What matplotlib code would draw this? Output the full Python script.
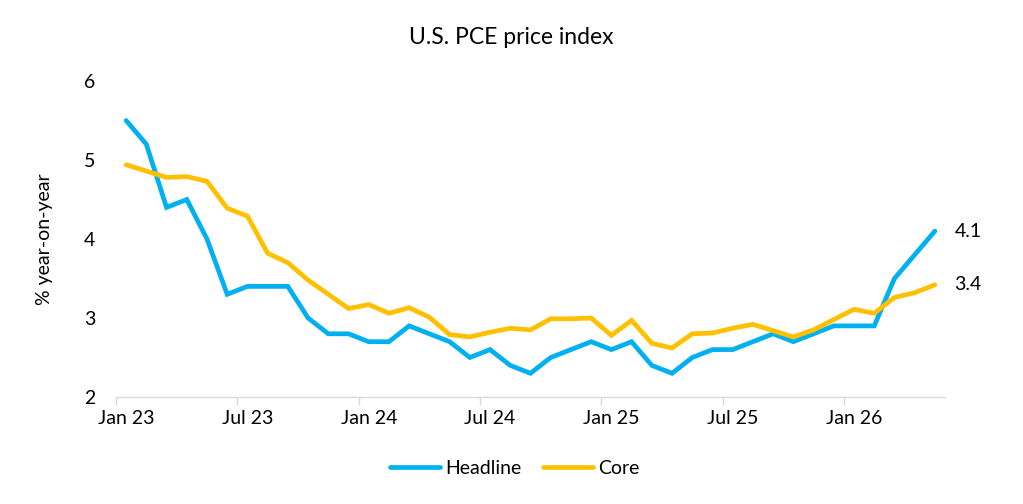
import matplotlib
matplotlib.use("Agg")
import matplotlib.pyplot as plt
import numpy as np

plt.rcParams['font.family'] = ['Lato', 'DejaVu Sans']

# monthly, Jan 23 .. May 26
months = ['Jan 23', 'Feb 23', 'Mar 23', 'Apr 23', 'May 23', 'Jun 23', 'Jul 23', 'Aug 23', 'Sep 23', 'Oct 23', 'Nov 23', 'Dec 23',
          'Jan 24', 'Feb 24', 'Mar 24', 'Apr 24', 'May 24', 'Jun 24', 'Jul 24', 'Aug 24', 'Sep 24', 'Oct 24', 'Nov 24', 'Dec 24',
          'Jan 25', 'Feb 25', 'Mar 25', 'Apr 25', 'May 25', 'Jun 25', 'Jul 25', 'Aug 25', 'Sep 25', 'Oct 25', 'Nov 25', 'Dec 25',
          'Jan 26', 'Feb 26', 'Mar 26', 'Apr 26', 'May 26']
headline = [5.5, 5.2, 4.4, 4.5, 4.0, 3.3, 3.4, 3.4, 3.4, 3.0, 2.8, 2.8,
            2.7, 2.7, 2.9, 2.8, 2.7, 2.5, 2.6, 2.4, 2.3, 2.5, 2.6, 2.7,
            2.6, 2.7, 2.4, 2.3, 2.5, 2.6, 2.6, 2.7, 2.8, 2.7, 2.8, 2.9,
            2.9, 2.9, 3.5, 3.8, 4.1]
core = [4.94, 4.86, 4.78, 4.79, 4.73, 4.39, 4.29, 3.82, 3.70, 3.48, 3.30, 3.12,
        3.17, 3.06, 3.13, 3.01, 2.79, 2.76, 2.82, 2.87, 2.85, 2.99, 2.99, 3.00,
        2.78, 2.97, 2.68, 2.62, 2.80, 2.81, 2.87, 2.92, 2.84, 2.76, 2.85, 2.98,
        3.11, 3.06, 3.26, 3.32, 3.42]

blue = '#00B0F0'
gold = '#FFC000'
fs = 14

fig = plt.figure(figsize=(10.23, 5.04), dpi=100)
ax = fig.add_axes([116/1023, 1 - 397/504, (945 - 116)/1023, (397 - 81)/504])

x = np.arange(len(months))
ax.plot(x, headline, color=blue, lw=3.4, solid_capstyle='round', solid_joinstyle='miter', label='Headline')
ax.plot(x, core, color=gold, lw=3.4, solid_capstyle='round', solid_joinstyle='miter', label='Core')

ax.set_xlim(-0.5, len(months) - 0.5)
ax.set_ylim(2, 6)
ax.set_yticks([2, 3, 4, 5, 6])
ax.tick_params(axis='y', length=0, pad=15, labelsize=fs)

# tick marks between categories, labels on the category
ax.set_xticks(np.arange(-0.5, len(months) - 1, 6))
ax.set_xticklabels([])
ax.set_xticks(x[::6], minor=True)
ax.set_xticklabels(months[::6], minor=True)
ax.tick_params(axis='x', which='major', length=6, color='#d9d9d9', width=1)
ax.tick_params(axis='x', which='minor', length=0, pad=9, labelsize=fs)

for s in ['top', 'right', 'left']:
    ax.spines[s].set_visible(False)
ax.spines['bottom'].set_color('#d9d9d9')
ax.spines['bottom'].set_linewidth(1)

ax.set_ylabel('% year-on-year', fontsize=fs, labelpad=22)

# end labels
ax.annotate(f'{headline[-1]:.1f}', (x[-1], headline[-1]), xytext=(14, 0), textcoords='offset points',
            va='center', ha='left', fontsize=fs)
ax.annotate(f'{core[-1]:.1f}', (x[-1], core[-1]), xytext=(14, 0), textcoords='offset points',
            va='center', ha='left', fontsize=fs)

fig.text(0.5, 1 - 38/504, 'U.S. PCE price index', ha='center', va='center', fontsize=16.5)

fig.legend(loc='center', bbox_to_anchor=(0.503, 1 - 468/504), ncol=2, frameon=False,
           fontsize=fs, handlelength=2.6, columnspacing=1.1, handletextpad=0.25)

fig.savefig('out.png', dpi=100)
